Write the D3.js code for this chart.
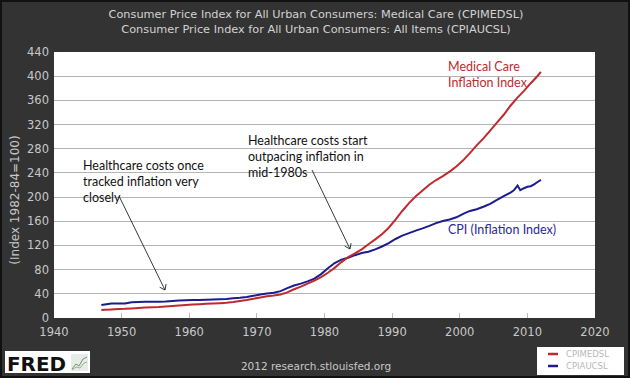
<!DOCTYPE html>
<html><head><meta charset="utf-8">
<script src="https://cdn.jsdelivr.net/npm/d3@7"></script>
<style>html,body{margin:0;padding:0;background:#333;}svg{display:block;}</style>
</head><body>
<svg id="c" width="630" height="378"></svg>
<script>
const titles = ["Consumer Price Index for All Urban Consumers: Medical Care (CPIMEDSL)",
                "Consumer Price Index for All Urban Consumers: All Items (CPIAUCSL)"];
const yTicks = [0,40,80,120,160,200,240,280,320,360,400,440];
const xTicks = [1940,1950,1960,1970,1980,1990,2000,2010,2020];
const medDates = [1947.0,1947.5,1948.5,1949.5,1950.5,1951.5,1952.5,1953.5,1954.5,1955.5,1956.5,1957.5,1958.5,1959.5,1960.5,1961.5,1962.5,1963.5,1964.5,1965.5,1966.5,1967.5,1968.5,1969.5,1970.5,1971.5,1972.5,1973.5,1974.5,1975.5,1976.5,1977.5,1978.5,1979.5,1980.5,1981.5,1982.5,1983.5,1984.5,1985.5,1986.5,1987.5,1988.5,1989.5,1990.5,1991.5,1992.5,1993.5,1994.5,1995.5,1996.5,1997.5,1998.5,1999.5,2000.5,2001.5,2002.5,2003.5,2004.5,2005.5,2006.5,2007.5,2008.5,2009.5,2010.5,2011.5,2012.0];
const medValues = [13.3,13.6,14.2,14.8,15.1,15.9,16.7,17.3,17.8,18.2,18.9,19.7,20.6,21.5,22.3,22.9,23.5,24.1,24.6,25.2,26.3,28.2,29.9,31.9,34.0,36.1,37.3,38.8,42.4,47.5,52.0,57.0,61.8,67.5,74.9,82.9,92.5,100.6,106.8,113.5,122.0,130.1,138.6,149.3,162.8,177.0,190.1,201.4,211.0,220.5,228.2,234.6,242.1,250.6,260.8,272.8,285.6,297.1,310.1,323.2,336.2,351.1,364.1,375.6,388.4,400.3,407.0];
const cpiDates = [1947.0,1947.5,1948.5,1949.5,1950.5,1951.5,1952.5,1953.5,1954.5,1955.5,1956.5,1957.5,1958.5,1959.5,1960.5,1961.5,1962.5,1963.5,1964.5,1965.5,1966.5,1967.5,1968.5,1969.5,1970.5,1971.5,1972.5,1973.5,1974.5,1975.5,1976.5,1977.5,1978.5,1979.5,1980.5,1981.5,1982.5,1983.5,1984.5,1985.5,1986.5,1987.5,1988.5,1989.5,1990.5,1991.5,1992.5,1993.5,1994.5,1995.5,1996.5,1997.5,1998.5,1999.5,2000.5,2001.5,2002.5,2003.5,2004.5,2005.5,2006.5,2007.5,2008.0,2008.55,2008.95,2009.5,2010.0,2010.5,2011.0,2011.5,2012.0];
const cpiValues = [21.5,22.3,24.0,23.8,24.1,26.0,26.5,26.7,26.9,26.8,27.2,28.1,28.9,29.2,29.6,29.9,30.3,30.6,31.0,31.5,32.5,33.4,34.8,36.7,38.8,40.5,41.8,44.4,49.3,53.8,56.9,60.6,65.2,72.6,82.4,90.9,96.5,99.6,103.9,107.6,109.6,113.6,118.3,124.0,130.7,136.2,140.3,144.5,148.2,152.4,156.9,160.5,163.0,166.6,172.2,177.1,179.9,184.0,188.9,195.3,201.6,207.3,211.1,219.0,211.4,214.7,217.0,218.0,221.0,225.0,228.5];
const seriesNames = ["CPIMEDSL","CPIAUCSL"];
const colors = {med:"#bf2a2e", cpi:"#1c1c8c"};

const svg = d3.select("#c");
svg.append("rect").attr("x",1).attr("y",1).attr("width",628).attr("height",376)
  .attr("fill","#333").attr("stroke","#111").attr("stroke-width",2);

const x = d3.scaleLinear().domain([1940,2020]).range([54,595]);
const y = d3.scaleLinear().domain([0,440]).range([318,52]);

svg.append("rect").attr("x",x(1940)).attr("y",y(440)).attr("width",x(2020)-x(1940)).attr("height",y(0)-y(440)).attr("fill","#fff");

// gridlines
svg.append("g").selectAll("line").data(yTicks.filter(d=>d>0&&d<440)).join("line")
  .attr("x1",x(1940)).attr("x2",x(2020)).attr("y1",d=>y(d)).attr("y2",d=>y(d))
  .attr("stroke","#b4b4b4").attr("stroke-width",1).attr("shape-rendering","crispEdges");

// x ticks inside
svg.append("g").selectAll("line").data(xTicks.slice(1,-1)).join("line")
  .attr("x1",d=>x(d)).attr("x2",d=>x(d)).attr("y1",y(0)).attr("y2",y(0)-5)
  .attr("stroke","#bbb").attr("shape-rendering","crispEdges");

// axes labels
const tickFont = "DejaVu Sans";
svg.append("g").selectAll("text").data(yTicks).join("text")
  .attr("x",49).attr("y",d=>y(d)+4).attr("text-anchor","end")
  .attr("font-family",tickFont).attr("font-size",11.5).attr("fill","#c8c8c8").text(d=>d);
svg.append("g").selectAll("text").data(xTicks).join("text")
  .attr("x",d=>x(d)).attr("y",336).attr("text-anchor","middle")
  .attr("font-family",tickFont).attr("font-size",11.5).attr("fill","#c8c8c8").text(d=>d);

svg.append("text").attr("transform","translate(19,200) rotate(-90)").attr("text-anchor","middle")
  .attr("font-family",tickFont).attr("font-size",12).attr("fill","#c8c8c8").text("(Index 1982-84=100)");

// titles
svg.selectAll(".t").data(titles).join("text").attr("class","t")
  .attr("x",316).attr("y",(d,i)=>18+i*15).attr("text-anchor","middle")
  .attr("font-family",tickFont).attr("font-size",11.3).attr("fill","#d2d2d2").text(d=>d);

// lines
const line = d3.line().x(d=>x(d[0])).y(d=>y(d[1]));
svg.append("path").datum(cpiDates.map((d,i)=>[d,cpiValues[i]])).attr("d",line)
  .attr("fill","none").attr("stroke",colors.cpi).attr("stroke-width",2);
svg.append("path").datum(medDates.map((d,i)=>[d,medValues[i]])).attr("d",line)
  .attr("fill","none").attr("stroke",colors.med).attr("stroke-width",2);

// annotations
const annFont = "Lato";
function textBlock(lines, x0, y0, color){
  svg.append("g").selectAll("text").data(lines).join("text")
    .attr("x",x0).attr("y",(d,i)=>y0+i*16).attr("font-family",annFont).attr("font-size",12.5)
    .attr("fill",color).text(d=>d);
}
textBlock(["Healthcare costs once","tracked inflation very","closely"],83,170,"#111");
textBlock(["Healthcare costs start","outpacing inflation in","mid-1980s"],248,145,"#111");
textBlock(["Medical Care","Inflation Index"],448,71,colors.med);
textBlock(["CPI (Inflation Index)"],448,234,"#2a2a96");

function arrow(x1,y1,x2,y2){
  svg.append("line").attr("x1",x1).attr("y1",y1).attr("x2",x2).attr("y2",y2).attr("stroke","#222").attr("stroke-width",0.9);
  const a = Math.atan2(y2-y1,x2-x1), L=6;
  [a+Math.PI*0.8,a-Math.PI*0.8].forEach(b=>{
    svg.append("line").attr("x1",x2).attr("y1",y2).attr("x2",x2+L*Math.cos(b)).attr("y2",y2+L*Math.sin(b))
      .attr("stroke","#222").attr("stroke-width",0.9);
  });
}
arrow(119,196,165,290);
arrow(312,170,350,249);

// footer
svg.append("text").attr("x",316).attr("y",370).attr("text-anchor","middle")
  .attr("font-family",tickFont).attr("font-size",10.5).attr("fill","#c8c8c8").text("2012 research.stlouisfed.org");

// FRED logo
svg.append("rect").attr("x",5).attr("y",351).attr("width",85).attr("height",22).attr("fill","#fff");
svg.append("text").attr("x",7).attr("y",371).attr("font-family","DejaVu Sans").attr("font-weight","bold")
  .attr("font-size",20).attr("fill","#111").attr("textLength",59).attr("lengthAdjust","spacingAndGlyphs").text("FRED");
svg.append("rect").attr("x",71).attr("y",354).attr("width",17).attr("height",17).attr("fill","#e8ece8");
svg.append("polyline").attr("points","72,369 76,364 79,366 83,359 87,357").attr("fill","none").attr("stroke","#6a9a6a").attr("stroke-width",1);
svg.append("polyline").attr("points","72,370 76,367 80,368 84,363 87,362").attr("fill","none").attr("stroke","#9ab09a").attr("stroke-width",1);

// legend
const lg = svg.append("g");
lg.append("rect").attr("x",537).attr("y",347).attr("width",87).attr("height",28).attr("fill","#fff");
const legColors=[colors.med,colors.cpi];
seriesNames.forEach((n,i)=>{
  lg.append("line").attr("x1",548).attr("x2",558).attr("y1",354+i*12).attr("y2",354+i*12).attr("stroke",legColors[i]).attr("stroke-width",2.5);
  lg.append("text").attr("x",566).attr("y",357+i*12).attr("font-family",tickFont).attr("font-size",8.5).attr("fill","#b8b8b8").text(n);
});
</script>
</body></html>
